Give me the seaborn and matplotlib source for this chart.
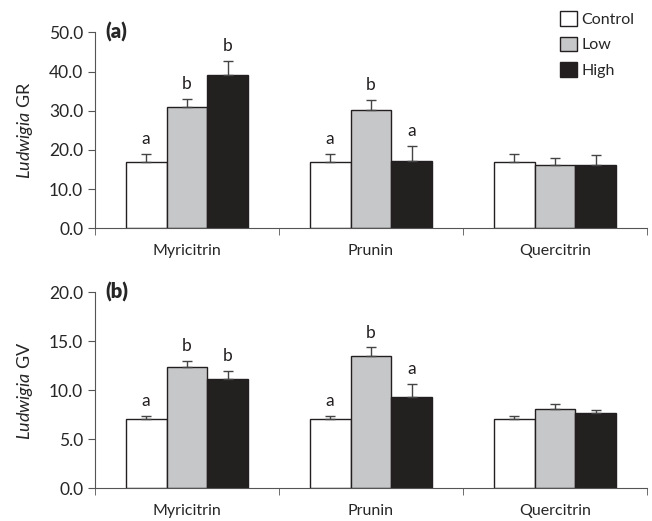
import numpy as np
import pandas as pd
import matplotlib
matplotlib.use("Agg")
import matplotlib.pyplot as plt
from matplotlib.patches import Patch
import seaborn as sns

# data
compounds = ["Myricitrin", "Prunin", "Quercitrin"]
treatments = ["Control", "Low", "High"]

gr_mean = [[17.0, 31.0, 39.1],
           [17.0, 30.1, 17.2],
           [17.0, 16.1, 16.2]]
gr_err = [[2.0, 2.0, 3.7],
          [2.0, 2.7, 3.7],
          [2.0, 1.9, 2.4]]
gr_letters = [["a", "b", "b"], ["a", "b", "a"], ["", "", ""]]

gv_mean = [[7.04, 12.35, 11.18],
           [7.04, 13.47, 9.35],
           [7.04, 8.09, 7.68]]
gv_err = [[0.34, 0.6, 0.8],
          [0.34, 0.9, 1.3],
          [0.34, 0.55, 0.28]]
gv_letters = [["a", "b", "b"], ["a", "b", "a"], ["", "", ""]]

colors = ["#ffffff", "#c6c7c9", "#231f20"]
edge = "#231f20"

sns.set_style("ticks")
plt.rcParams["font.family"] = ["Lato", "DejaVu Sans"]
plt.rcParams["mathtext.fontset"] = "custom"
plt.rcParams["mathtext.it"] = "Lato:italic"
plt.rcParams["mathtext.rm"] = "Lato"


def long_df(means):
    rows = []
    for i, c in enumerate(compounds):
        for j, t in enumerate(treatments):
            rows.append({"compound": c, "treatment": t, "value": means[i][j]})
    return pd.DataFrame(rows)


def panel(ax, means, errs, letters, ymax, step, label, ylab):
    df = long_df(means)
    sns.barplot(data=df, x="compound", y="value", hue="treatment",
                order=compounds, hue_order=treatments, palette=colors,
                edgecolor=edge, linewidth=1.0, width=0.667, gap=0,
                errorbar=None, legend=False, ax=ax)
    bar_groups = list(ax.containers)
    for j, cont in enumerate(bar_groups):
        for i, bar in enumerate(cont):
            x = bar.get_x() + bar.get_width() / 2
            h = bar.get_height()
            e = errs[i][j]
            ax.errorbar(x, h, yerr=[[0], [e]], fmt="none", ecolor="#444444",
                        elinewidth=1.0, capsize=3.3, capthick=1.0, zorder=1)
            if letters[i][j]:
                ax.annotate(letters[i][j], (x, h + e), xytext=(0, 5),
                            textcoords="offset points", ha="center",
                            va="bottom", fontsize=12.5, color="#231f20")
    ticks = np.arange(0, ymax + step / 2, step)
    ax.set_ylim(0, ymax)
    ax.set_yticks(ticks)
    ax.set_yticklabels([f"{v:.1f}" for v in ticks])
    ax.set_xlim(-0.5, 2.5)
    ax.set_xticks(range(3))
    ax.set_xticks([-0.5, 0.5, 1.5, 2.5], minor=True)
    ax.tick_params(axis="x", which="major", length=0, pad=11, labelsize=11.5)
    ax.tick_params(axis="x", which="minor", length=5, direction="out",
                   color="#555555")
    ax.tick_params(axis="y", length=5, color="#555555", labelsize=12.5)
    ax.set_xlabel("")
    ax.set_ylabel(ylab, fontsize=13, labelpad=10)
    for s in ["top", "right"]:
        ax.spines[s].set_visible(False)
    ax.spines["left"].set_color("#555555")
    ax.spines["bottom"].set_color("#555555")
    ax.text(0.018, 1.0, label, transform=ax.transAxes, fontsize=14.5,
            fontweight="heavy", ha="left", va="center")


fig = plt.figure(figsize=(6.52, 5.21), dpi=100)
ax1 = fig.add_axes([0.1457, 0.5618, 0.8466, 0.3762])
ax2 = fig.add_axes([0.1457, 0.0628, 0.8466, 0.3762])

panel(ax1, gr_mean, gr_err, gr_letters, 50, 10, "(a)", r"$\it{Ludwigia}$ GR")
panel(ax2, gv_mean, gv_err, gv_letters, 20, 5, "(b)", r"$\it{Ludwigia}$ GV")

handles = [Patch(facecolor=c, edgecolor=edge, linewidth=1.0) for c in colors]
fig.legend(handles, treatments, loc="upper right", bbox_to_anchor=(0.99, 1.0),
           frameon=False, fontsize=11.5, handlelength=1.05, handleheight=1.05,
           handletextpad=0.3, labelspacing=0.6, borderaxespad=0.3)

fig.savefig("out.png", dpi=100)
